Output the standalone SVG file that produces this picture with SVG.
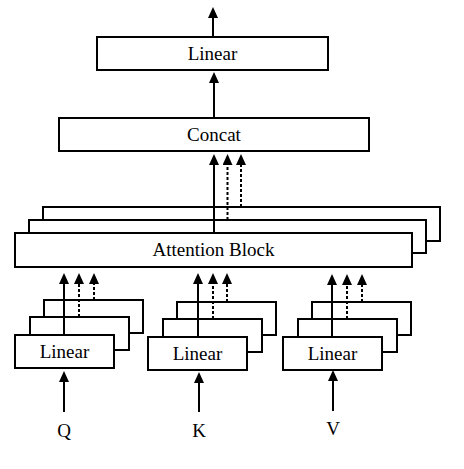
<svg xmlns="http://www.w3.org/2000/svg" width="464" height="469" viewBox="0 0 464 469">
<style>
.box{fill:#fff;stroke:#000;stroke-width:2}
.lbl{font-family:"Liberation Serif","Times New Roman",serif;font-size:19px;fill:#000;text-anchor:middle}
.ar{stroke:#000;stroke-width:2;fill:none;marker-end:url(#ah)}
.da{stroke-dasharray:3,2}
</style>
<defs>
<marker id="ah" markerUnits="userSpaceOnUse" markerWidth="12" markerHeight="12" refX="9" refY="5" orient="auto">
<path d="M0,0 L11,5 L0,10 z" fill="#000"/>
</marker>
</defs>
<rect width="464" height="469" fill="#fff"/>
<g id="linear-out">
<rect class="box" x="97" y="37" width="231" height="33"/>
<text class="lbl" x="212.5" y="60">Linear</text>
</g>
<g id="concat">
<rect class="box" x="59" y="118" width="310" height="33"/>
<text class="lbl" x="214" y="141">Concat</text>
</g>
<g id="attention">
<rect class="box" x="43" y="207" width="397" height="34"/>
<rect class="box" x="29" y="220" width="397" height="33"/>
<rect class="box" x="15" y="233" width="397" height="34"/>
<text class="lbl" x="213.5" y="256">Attention Block</text>
</g>
<g id="linear-q">
<rect class="box" x="44" y="300" width="99" height="33"/>
<rect class="box" x="30" y="317" width="99" height="33"/>
<rect class="box" x="15" y="335" width="99" height="33"/>
<text class="lbl" x="64.5" y="358">Linear</text>
</g>
<g id="linear-k">
<rect class="box" x="177" y="302" width="99" height="33"/>
<rect class="box" x="163" y="319" width="99" height="33"/>
<rect class="box" x="148" y="337" width="99" height="33"/>
<text class="lbl" x="197.5" y="360">Linear</text>
</g>
<g id="linear-v">
<rect class="box" x="312" y="302" width="99" height="33"/>
<rect class="box" x="298" y="319" width="99" height="33"/>
<rect class="box" x="283" y="337" width="99" height="33"/>
<text class="lbl" x="332.5" y="360">Linear</text>
</g>
<g id="inputs">
<text class="lbl" x="64" y="437">Q</text>
<text class="lbl" x="199" y="437">K</text>
<text class="lbl" x="333" y="435">V</text>
</g>
<g id="connectors">
<line class="ar" x1="213" y1="37" x2="213" y2="9"/>
<line class="ar" x1="214" y1="118" x2="214" y2="74"/>
<line class="ar" x1="214" y1="233" x2="214" y2="156"/>
<line class="ar da" x1="227.5" y1="220" x2="227.5" y2="156"/>
<line class="ar da" x1="241" y1="207" x2="241" y2="156"/>
<line class="ar" x1="64" y1="335" x2="64" y2="275"/>
<line class="ar da" x1="79" y1="317" x2="79" y2="275"/>
<line class="ar da" x1="94" y1="300" x2="94" y2="275"/>
<line class="ar" x1="198" y1="337" x2="198" y2="275"/>
<line class="ar da" x1="213" y1="319" x2="213" y2="275"/>
<line class="ar da" x1="227" y1="302" x2="227" y2="275"/>
<line class="ar" x1="332" y1="337" x2="332" y2="276"/>
<line class="ar da" x1="347" y1="319" x2="347" y2="276"/>
<line class="ar da" x1="362" y1="302" x2="362" y2="276"/>
<line class="ar" x1="64" y1="412" x2="64" y2="373"/>
<line class="ar" x1="199" y1="412" x2="199" y2="374"/>
<line class="ar" x1="333" y1="411" x2="333" y2="372"/>
</g>
</svg>
